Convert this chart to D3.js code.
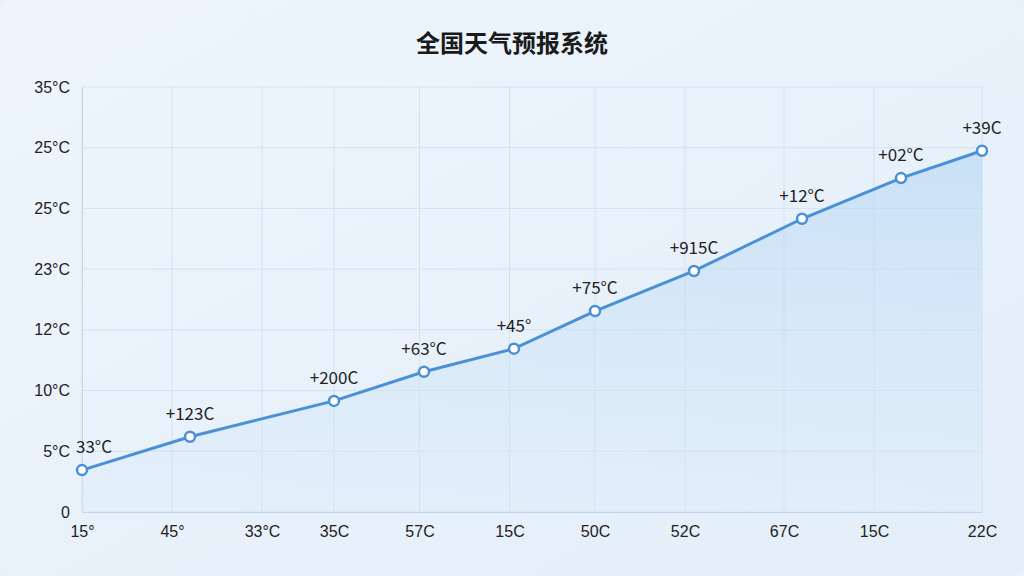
<!DOCTYPE html>
<html><head><meta charset="utf-8">
<script src="https://cdn.jsdelivr.net/npm/d3@7"></script>
<style>body{margin:0;background:#e8f1fa;}svg{display:block;font-family:"Noto Sans CJK SC","Noto Sans",sans-serif;}</style>
</head><body><svg id="c" width="1024" height="576"></svg>
<script>
const title = "全国天气预报系统";
const yTickLabels = ["0","5°C","10°C","12°C","23°C","25°C","25°C","35°C"];
const xTickLabels = ["15°","45°","33°C","35C","57C","15C","50C","52C","67C","15C","22C"];
const xTickValues = [0,1,2,2.8,3.75,4.75,5.7,6.7,7.8,8.8,10];
const pointX = [0,1.2,2.8,3.8,4.8,5.7,6.8,8.0,9.1,10];
const pointY = [0.69,1.24,1.83,2.31,2.69,3.31,3.97,4.83,5.50,5.95];
const pointLabels = ["33°C","+123C","+200C","+63°C","+45°","+75°C","+915C","+12°C","+02°C","+39C"];

const svg = d3.select("#c");
const defs = svg.append("defs");
const bg = defs.append("linearGradient").attr("id","bg").attr("x1",0).attr("y1",0).attr("x2",1).attr("y2",1);
bg.append("stop").attr("offset","0").attr("stop-color","#eef5fc");
bg.append("stop").attr("offset","1").attr("stop-color","#e3eef9");
const ag = defs.append("linearGradient").attr("id","ag").attr("x1",0).attr("y1",0).attr("x2",0).attr("y2",1);
ag.append("stop").attr("offset","0").attr("stop-color","#a9d0f2").attr("stop-opacity",0.5);
ag.append("stop").attr("offset","1").attr("stop-color","#dbeaf8").attr("stop-opacity",0.3);
svg.append("rect").attr("width",1024).attr("height",576).attr("rx",14).attr("fill","url(#bg)");

const x = d3.scaleLinear().domain([0,10]).range([82,982]);
const y = d3.scaleLinear().domain([0,7]).range([512,87]);

const g = svg.append("g");
g.selectAll(".hg").data(d3.range(0,8)).join("line")
 .attr("x1",82).attr("x2",982).attr("y1",d=>y(d)).attr("y2",d=>y(d))
 .attr("stroke","#d3e2f1").attr("stroke-width",1);
g.selectAll(".vg").data(xTickValues).join("line")
 .attr("x1",d=>x(d)).attr("x2",d=>x(d)).attr("y1",87).attr("y2",512)
 .attr("stroke","#d3e2f1").attr("stroke-width",1);

const ya = d3.axisLeft(y).tickValues(d3.range(0,8)).tickFormat(d=>yTickLabels[d]).tickSize(0).tickPadding(12);
svg.append("g").attr("transform","translate(82,0)").call(ya)
 .call(s=>s.select(".domain").attr("stroke","#c4d6ea"))
 .selectAll("text").attr("font-size",16).attr("fill","#222");
const xa = d3.axisBottom(x).tickValues(xTickValues).tickFormat((d,i)=>xTickLabels[i]).tickSize(0).tickPadding(14);
svg.append("g").attr("transform","translate(0,512)").call(xa)
 .call(s=>s.select(".domain").attr("stroke","#c4d6ea"))
 .selectAll("text").attr("font-size",16).attr("fill","#222");

const data = pointX.map((v,i)=>({x:v,y:pointY[i],l:pointLabels[i]}));
svg.append("path").datum(data)
 .attr("d",d3.area().x(d=>x(d.x)).y0(y(0)).y1(d=>y(d.y)))
 .attr("fill","url(#ag)");
svg.append("path").datum(data)
 .attr("d",d3.line().x(d=>x(d.x)).y(d=>y(d.y)))
 .attr("fill","none").attr("stroke","#4a90d6").attr("stroke-width",3);
svg.selectAll(".pt").data(data).join("circle")
 .attr("cx",d=>x(d.x)).attr("cy",d=>y(d.y)).attr("r",5)
 .attr("fill","#fff").attr("stroke","#4a90d6").attr("stroke-width",2.5);
svg.selectAll(".pl").data(data).join("text")
 .attr("x",(d,i)=>x(d.x)+(i===0?12:0)).attr("y",d=>y(d.y)-17)
 .attr("text-anchor","middle").attr("font-size",17).attr("fill","#222").text(d=>d.l);

svg.append("text").attr("x",512).attr("y",52).attr("text-anchor","middle")
 .attr("font-size",24).attr("font-weight","bold").attr("fill","#1a1a1a").text(title);
</script></body></html>
